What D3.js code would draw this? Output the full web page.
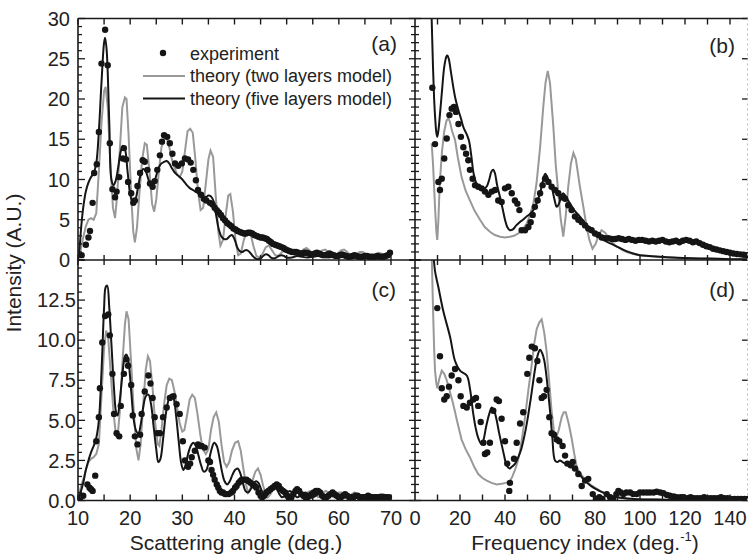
<!DOCTYPE html>
<html>
<head>
<meta charset="utf-8">
<script src="https://cdn.jsdelivr.net/npm/d3@7"></script>
<style>
  body { margin: 0; background: #fff; }
  text { font-family: "Liberation Sans", Arial, sans-serif; fill: #222; }
</style>
</head>
<body>
<svg id="chart" width="748" height="560"></svg>
<script>
// ---- data: [x, intensity] ----
// (a) scattering angle, upper panel
const expA = [[10.7,0.6],[11.5,1.9],[12.0,2.8],[12.3,3.6],[12.8,7.1],[13.1,10.8],[13.6,11.9],[14.0,15.9],[14.5,24.4],[15.2,28.6],[15.7,24.2],[16.1,14.5],[16.6,8.8],[17.1,7.8],[17.4,8.5],[17.9,10.3],[18.6,12.6],[18.8,13.9],[19.2,12.5],[19.6,9.7],[20.2,8.3],[20.6,7.1],[20.9,7.4],[21.4,9.2],[21.9,10.8],[22.4,12.4],[22.8,12.2],[23.3,11.2],[23.8,9.5],[24.3,9.1],[24.7,9.8],[25.2,11.2],[25.7,13.0],[26.1,14.7],[26.5,15.5],[27.1,15.3],[27.6,14.5],[28.1,13.2],[28.6,12.0],[29.2,11.7],[29.9,12.0],[30.5,12.6],[31.1,12.5],[31.6,12.1],[32.1,11.2],[32.6,9.9],[33.0,8.7],[33.6,8.1],[34.1,7.6],[34.6,7.4],[35.3,7.1],[35.8,6.9],[36.2,6.5],[36.6,6.2],[37.0,5.9],[37.4,5.6],[37.8,5.2],[38.2,4.9],[38.6,4.6],[39.0,4.4],[39.4,4.2],[39.8,3.9],[40.2,3.8],[40.6,3.6],[41.0,3.5],[41.4,3.4],[41.8,3.3],[42.2,3.3],[42.6,3.4],[43.0,3.4],[43.4,3.3],[43.8,3.1],[44.2,3.0],[44.6,2.9],[45.0,2.8],[45.4,2.8],[45.8,2.7],[46.2,2.6],[46.6,2.4],[47.0,2.2],[47.4,2.0],[47.8,1.9],[48.2,1.8],[48.6,1.7],[49.0,1.6],[49.4,1.5],[49.8,1.3],[50.2,1.2],[50.6,1.1],[51.0,1.0],[51.4,1.0],[51.8,1.0],[52.2,0.9],[52.6,0.8],[53.0,0.8],[53.4,0.9],[53.8,0.9],[54.2,0.8],[54.6,0.7],[55.0,0.7],[55.4,0.8],[55.8,0.9],[56.2,0.8],[56.6,0.7],[57.0,0.6],[57.4,0.6],[57.8,0.7],[58.2,0.8],[58.6,0.7],[59.0,0.6],[59.4,0.5],[59.8,0.5],[60.2,0.6],[60.6,0.7],[61.0,0.6],[61.4,0.5],[61.8,0.4],[62.2,0.4],[62.6,0.5],[63.0,0.6],[63.4,0.5],[63.8,0.4],[64.2,0.4],[64.6,0.4],[65.0,0.5],[65.4,0.5],[65.8,0.4],[66.2,0.4],[66.6,0.4],[67.0,0.4],[67.4,0.5],[67.8,0.4],[68.2,0.4],[68.6,0.4],[69.0,0.5],[69.4,0.6],[69.8,0.9]]
const twoA = [[10,0],[10.5,1.2],[11,2.8],[11.5,4.2],[12,5.0],[12.5,5.2],[13,5.0],[13.5,5.8],[14,11],[14.5,17],[15,21],[15.3,21.5],[15.7,19],[16.2,12],[16.7,6.5],[17.1,5.2],[17.5,8],[18,13.5],[18.5,19],[19,20.2],[19.3,20],[19.7,15.5],[20.2,8],[20.6,3.5],[20.9,2.2],[21.3,4],[21.8,8.5],[22.3,12.5],[22.8,14.5],[23.2,14.3],[23.7,11],[24.2,7],[24.6,6],[25,7.5],[25.5,11],[26,14],[26.5,15],[27,15.2],[27.5,14],[28,12.5],[28.5,11.5],[29,10.6],[29.5,10.3],[30,11],[30.5,13.5],[31,16],[31.5,16.3],[32,15.8],[32.5,12.5],[33,8.5],[33.5,6.2],[34,6.5],[34.5,9.5],[35,12.5],[35.4,13.6],[35.9,12.8],[36.4,8],[36.9,3.5],[37.3,1.8],[37.8,2.5],[38.3,5.5],[38.8,8],[39.2,8.2],[39.7,6],[40.2,2.5],[40.7,0.6],[41.2,0.8],[41.8,2.5],[42.4,3.6],[43,3.5],[43.6,1.8],[44.2,0.5],[44.8,0.3],[45.4,0.8],[46,1.6],[46.6,1.8],[47.2,1.2],[47.8,0.6],[48.4,0.5],[49,0.9],[49.6,1.4],[50.2,1.5],[50.8,1.2],[51.4,0.7],[52,0.5],[52.6,0.8],[53.2,1.3],[53.8,1.5],[54.4,1.2],[55,0.7],[55.6,0.5],[56.2,0.8],[56.8,1.2],[57.4,1.3],[58,1.0],[58.6,0.6],[59.2,0.5],[59.8,0.8],[60.4,1.2],[61,1.3],[61.6,1.0],[62.2,0.6],[62.8,0.5],[63.4,0.7],[64,1.0],[64.6,1.0],[65.2,0.7],[65.8,0.4],[66.4,0.4],[67,0.7],[67.6,0.9],[68.2,0.8],[68.8,0.5],[69.4,0.4],[70,0.5]]
const fiveA = [[10,0],[10.3,1.5],[10.6,4],[11,6.5],[11.5,8.5],[12,9.6],[12.5,10.3],[13,10.8],[13.5,12],[14,16],[14.5,22],[15,27],[15.2,27.6],[15.5,26],[16,17],[16.4,10],[16.8,9.3],[17.2,9.8],[17.7,11.5],[18.2,13.5],[18.6,14.2],[19,13.8],[19.5,11],[20,8.2],[20.5,7.1],[21,7.5],[21.5,9],[22,10.6],[22.5,11.3],[23,11],[23.5,10],[24,9.3],[24.5,9.5],[25,10.5],[25.5,11.5],[26,12.0],[26.5,12.2],[27,12.3],[27.5,12.0],[28,11.4],[28.5,10.9],[29,10.6],[29.5,10.3],[30,10],[30.5,9.6],[31,9.2],[31.5,8.9],[32,8.7],[32.5,8.5],[33,8.3],[33.5,8.0],[34,7.8],[34.5,7.8],[35,8.0],[35.5,7.9],[36,7.3],[36.5,5.5],[37,3.8],[37.5,2.9],[38,2.6],[38.5,2.6],[39,2.9],[39.5,3.1],[40,2.6],[40.5,1.6],[41,1.1],[41.5,1.0],[42,1.2],[42.5,1.2],[43,0.9],[43.5,0.5],[44,0.2],[44.5,0.1],[45,0.2],[45.5,0.5],[46,0.7],[46.5,0.6],[47,0.3],[47.5,0.2],[48,0.3],[48.5,0.5],[49,0.6],[49.5,0.5],[50,0.3],[51,0.3],[52,0.5],[53,0.4],[54,0.3],[55,0.4],[56,0.5],[57,0.4],[58,0.3],[59,0.4],[60,0.5],[61,0.4],[62,0.3],[63,0.4],[64,0.5],[65,0.4],[66,0.3],[67,0.3],[68,0.4],[69,0.4],[70,0.6]]

// (c) scattering angle, lower panel
const expC = [[10.4,0],[11.0,0.3],[11.8,1.0],[12.2,0.8],[12.5,0.7],[12.8,0.6],[13.3,1.55],[13.5,3.7],[14.0,5.2],[14.2,7.0],[14.65,9.85],[15.2,11.5],[15.8,11.6],[16.1,10.3],[16.6,7.9],[16.9,5.4],[17.4,4.2],[17.9,4.0],[18.2,5.9],[18.8,7.9],[19.3,8.8],[19.6,8.4],[20.2,7.2],[20.5,5.3],[20.9,4.0],[21.4,3.5],[21.9,4.1],[22.2,5.4],[22.8,6.8],[23.5,7.8],[23.9,7.3],[24.3,6.4],[24.7,5.2],[25.2,4.2],[25.7,4.2],[26.3,5.2],[27.0,5.8],[27.6,6.4],[28.3,6.5],[28.9,6.0],[29.5,5.4],[30.1,3.7],[30.5,2.5],[31.1,2.1],[31.5,2.3],[31.8,2.7],[32.4,3.1],[33.0,3.5],[33.4,3.4],[33.7,3.4],[34.3,3.3],[35.0,2.5],[35.3,2.4],[35.6,1.9],[35.9,1.6],[36.2,1.3],[36.6,1.0],[36.9,0.8],[37.2,0.6],[37.5,0.5],[37.8,0.5],[38.2,0.4],[38.5,0.4],[38.9,0.4],[39.4,0.5],[39.7,0.6],[40.1,0.8],[40.4,0.9],[40.8,1.1],[41.1,1.2],[41.4,1.3],[41.8,1.3],[42.3,1.3],[42.7,1.2],[43.1,1.1],[43.5,1.0],[43.9,0.9],[44.2,0.8],[44.6,0.5],[45.0,0.3],[45.3,0.2],[45.7,0.3],[46.1,0.5],[46.5,0.6],[46.9,0.7],[47.3,0.8],[47.7,0.9],[48.1,1.0],[48.5,0.9],[48.9,0.7],[49.3,0.6],[49.7,0.5],[50.1,0.3],[50.5,0.2],[50.9,0.2],[51.3,0.4],[51.7,0.6],[52.0,0.7],[52.4,0.6],[52.8,0.4],[53.2,0.3],[53.6,0.2],[54.0,0.2],[54.4,0.3],[54.8,0.4],[55.2,0.5],[55.6,0.6],[56.0,0.6],[56.4,0.5],[56.8,0.3],[57.2,0.2],[57.6,0.2],[58.0,0.3],[58.4,0.4],[58.8,0.5],[59.2,0.4],[59.6,0.3],[60.0,0.2],[60.4,0.2],[60.8,0.3],[61.2,0.4],[61.6,0.3],[62.0,0.2],[62.4,0.2],[62.8,0.2],[63.2,0.3],[63.6,0.3],[64.0,0.2],[64.4,0.2],[64.8,0.2],[65.2,0.2],[65.6,0.3],[66.0,0.2],[66.4,0.2],[66.8,0.2],[67.2,0.2],[67.6,0.2],[68.0,0.2],[68.4,0.2],[68.8,0.2],[69.2,0.2],[69.6,0.2]]
const twoC = [[10,0],[10.5,0.8],[11,1.3],[11.5,1.9],[12,2.4],[12.5,2.6],[13,2.7],[13.5,2.9],[14,3.5],[14.5,6.5],[15,9.5],[15.4,10.6],[15.8,10.1],[16.3,7.8],[16.8,5.5],[17.3,4.0],[17.6,4.0],[18,5.5],[18.5,8.5],[19,11.0],[19.3,11.8],[19.7,11.3],[20.2,8.5],[20.7,5.5],[21.2,3.2],[21.6,2.5],[22,3.5],[22.5,6],[23,8.2],[23.4,9.0],[23.8,8.7],[24.3,7],[24.8,4.8],[25.3,3.5],[25.6,3.4],[26,4.4],[26.5,6],[27,7.2],[27.5,7.6],[28,7.5],[28.5,6.8],[29,5.8],[29.5,4.8],[30,4.3],[30.4,4.4],[30.9,5.3],[31.4,6.3],[31.9,6.6],[32.4,6.4],[32.9,5.4],[33.4,4.2],[33.9,3.2],[34.5,2.9],[35.0,3.2],[35.5,4.4],[36.0,5.2],[36.5,5.5],[37.0,4.9],[37.5,3.5],[38.0,2.4],[38.5,2.1],[39.0,2.4],[39.5,3.1],[40.1,3.6],[40.7,3.7],[41.2,3.1],[41.7,2.0],[42.2,1.0],[42.6,0.5],[43.0,0.7],[43.5,1.3],[44.0,1.8],[44.5,2.0],[45.0,1.6],[45.5,0.9],[46.0,0.4],[46.4,0.2],[46.9,0.4],[47.4,0.7],[47.9,0.9],[48.5,1.0],[49.0,0.8],[49.5,0.4],[50.0,0.2],[50.5,0.3],[51.0,0.5],[51.5,0.7],[52.0,0.7],[52.5,0.5],[53.0,0.3],[53.5,0.3],[54.0,0.5],[54.5,0.6],[55.0,0.6],[55.5,0.4],[56.0,0.2],[56.5,0.3],[57.0,0.5],[57.5,0.6],[58.0,0.5],[58.5,0.3],[59.0,0.2],[59.5,0.3],[60.0,0.5],[60.5,0.5],[61.0,0.4],[61.5,0.2],[62.0,0.2],[62.5,0.4],[63.0,0.5],[63.5,0.4],[64.0,0.2],[64.5,0.2],[65.0,0.3],[65.5,0.4],[66.0,0.4],[66.5,0.2],[67.0,0.2],[67.5,0.3],[68.0,0.4],[68.5,0.4],[69.0,0.3],[69.5,0.2],[70,0.3]]
const fiveC = [[10,0],[10.5,0.5],[11,1.1],[11.5,1.9],[12,2.5],[12.5,3.0],[13,3.4],[13.5,3.9],[14,5.0],[14.5,8.0],[15,12.0],[15.3,13.3],[15.6,13.4],[16,12],[16.4,9.8],[16.9,7],[17.3,5.5],[17.6,5.3],[18,6.2],[18.5,7.8],[19,9.0],[19.3,9.1],[19.7,8.6],[20.2,6.8],[20.7,5.0],[21.2,4.3],[21.6,4.2],[22,4.7],[22.5,5.8],[23,6.5],[23.5,6.6],[24,6.0],[24.5,4.6],[25,3.2],[25.4,2.4],[25.8,2.6],[26.3,3.8],[26.8,5.3],[27.3,6.2],[27.8,6.6],[28.3,6.4],[28.8,5.3],[29.3,3.7],[29.8,2.3],[30.2,1.9],[30.6,2.2],[31.1,2.9],[31.6,3.4],[32.1,3.6],[32.6,3.4],[33.1,2.8],[33.6,2.2],[34.1,1.8],[34.6,1.9],[35.1,2.5],[35.6,3.2],[36.1,3.6],[36.6,3.4],[37.1,2.7],[37.6,1.8],[38.1,1.2],[38.6,1.0],[39.1,1.2],[39.6,1.6],[40.1,1.9],[40.6,2.0],[41.1,1.7],[41.6,1.1],[42.1,0.6],[42.6,0.5],[43.1,0.7],[43.6,1.0],[44.1,1.2],[44.6,1.1],[45.1,0.7],[45.6,0.4],[46.1,0.3],[46.6,0.5],[47.1,0.7],[47.6,0.8],[48.1,0.7],[48.6,0.4],[49.1,0.2],[49.6,0.3],[50.1,0.5],[50.6,0.6],[51.1,0.5],[51.6,0.3],[52.1,0.2],[52.6,0.3],[53.1,0.4],[53.6,0.5],[54.1,0.4],[54.6,0.2],[55.1,0.2],[55.6,0.3],[56.1,0.4],[56.6,0.4],[57.1,0.3],[57.6,0.2],[58.1,0.2],[58.6,0.3],[59.1,0.4],[59.6,0.3],[60.1,0.2],[61,0.2],[62,0.3],[63,0.2],[64,0.2],[65,0.3],[66,0.2],[67,0.2],[68,0.2],[69,0.2],[70,0.2]]

// (b) frequency index, upper panel
const expB = [[7.7,21.4],[8.9,14.4],[10.4,9.7],[11.1,8.7],[11.9,10.1],[13.0,12.6],[14.1,15.1],[15.3,18.0],[16.3,18.8],[17.3,19.0],[18.2,18.4],[19.3,16.9],[20.4,15.3],[21.5,14.0],[22.7,13.2],[23.7,12.4],[24.4,11.2],[25.6,10.1],[26.7,9.3],[28.1,9.1],[29.6,8.9],[31.1,8.5],[32.6,8.1],[34.1,8.5],[35.6,8.7],[37.0,7.4],[38.5,7.2],[40.0,8.9],[41.5,9.1],[43.0,8.3],[44.4,7.4],[45.5,7.0],[46.4,6.2],[47.4,3.7],[48.9,3.7],[50.4,4.1],[51.4,4.7],[52.3,5.6],[53.3,6.6],[54.5,7.4],[55.6,8.3],[56.7,9.3],[57.8,10.1],[59.3,9.7],[60.7,9.1],[62.2,8.7],[63.7,8.3],[65.2,7.8],[66.7,7.6],[68.1,6.8],[69.6,6.2],[71.1,5.4],[72.6,5.0],[74.1,4.7],[75.6,4.3],[77.0,3.9],[78.5,3.7],[80.0,3.3],[81.5,3.1],[83.0,2.8],[84.4,2.7],[86.0,2.7],[87.5,2.6],[89.0,2.6],[90.5,2.7],[92.0,2.6],[93.5,2.5],[95.0,2.6],[96.5,2.5],[98.0,2.4],[99.5,2.5],[101.0,2.5],[102.5,2.4],[104.0,2.3],[105.5,2.4],[107.0,2.3],[108.5,2.4],[110.0,2.5],[111.5,2.3],[113.0,2.2],[114.5,2.3],[116.0,2.4],[117.5,2.2],[119.0,2.4],[120.5,2.5],[122.0,2.4],[123.5,2.2],[125.0,2.3],[126.5,2.1],[128.0,1.9],[129.5,1.7],[131.0,1.6],[132.5,1.4],[134.0,1.3],[135.5,1.2],[137.0,1.1],[138.5,1.0],[140.0,0.9],[141.5,0.8],[143.0,0.75],[144.5,0.7],[146.0,0.65],[147.5,0.6],[149.0,0.55]]
const twoB = [[7.4,14.5],[8,12],[8.5,9],[9,6],[9.5,3.5],[9.9,2.5],[10.4,5],[11,9.5],[12,13.5],[13,16],[14,17.3],[14.8,17.6],[15.5,17.2],[16.5,16],[17.8,14.9],[19,12.8],[20.7,10.3],[22.5,8.6],[24.4,7.4],[26.5,6.1],[28.9,5.0],[31,4.1],[33.3,3.5],[35.5,3.1],[37.8,2.9],[40,2.8],[42.2,2.9],[44,3.0],[45.9,3.3],[47.8,3.8],[49.6,4.5],[51,5.5],[52.6,7.0],[54,9.5],[55.6,14.0],[57,19],[58,22],[59,23.5],[60,22],[61.5,16.5],[62.5,12],[63.7,8.3],[64.8,5],[65.9,2.9],[67,5.5],[68.1,9.1],[69.3,12],[70.4,13.3],[71.5,12.5],[73.3,9.1],[75,6.3],[76.3,4.1],[77.5,2.5],[78.9,1.4],[80.3,2.0],[81.5,3.0],[82.9,3.7],[84.5,3.4],[86.7,2.5],[89,1.8],[91.1,1.4],[94,1.0],[97,0.75],[100,0.6],[105,0.45],[111.9,0.3],[120,0.2],[130,0.15],[140,0.1],[150,0.1]]
const fiveB = [[7.0,34],[7.5,29],[8.0,24],[8.5,20],[9.0,17.5],[9.5,15.8],[9.9,15.3],[10.5,16.3],[11,17.8],[12,21],[13,24],[14,25.3],[14.4,25.4],[15,25],[16,23.3],[17,21.5],[18,20],[19.3,18.6],[20.5,17.5],[21.5,16.5],[23,15.6],[24,14.8],[25,13],[26,10.8],[27,9.7],[28,9.1],[29,8.9],[30,8.8],[31,8.9],[32,9.2],[33,10],[34,11],[34.8,11.2],[35.5,10.8],[36.5,9.3],[37.8,7.8],[39,6.3],[40,5.0],[41,4.1],[42.2,3.7],[43.5,3.8],[45,4.3],[46.5,4.7],[48,5.0],[49.6,5.4],[51,5.7],[52.6,6.2],[54,7.0],[55,7.8],[56,8.8],[57,10],[57.8,10.7],[58.5,10.5],[59.5,9.8],[60.7,9.1],[62,7.5],[63,6.6],[64,7.0],[65,7.9],[65.9,8.3],[67,7.9],[68.9,7.0],[71,6.1],[73.3,5.4],[75.5,4.6],[77.8,3.9],[80,3.3],[82.2,2.9],[85,2.3],[88,1.9],[91,1.5],[94,1.1],[97,0.8],[100,0.6],[104,0.5],[108.9,0.4],[115,0.3],[120,0.25],[126.7,0.2],[135,0.15],[142,0.1],[150,0.1]]

// (d) frequency index, lower panel
const expD = [[9.9,12.0],[11.1,9.0],[11.9,7.0],[13.0,6.3],[14.1,6.5],[15.1,7.1],[16.3,7.8],[17.8,8.2],[19.3,7.5],[20.3,6.5],[21.5,5.9],[23.0,5.8],[24.4,6.1],[25.9,6.3],[27.1,6.4],[28.1,5.9],[29.2,4.9],[30.4,3.6],[31.1,2.9],[32.1,3.0],[33.3,3.6],[34.8,5.6],[36.3,6.3],[37.3,6.2],[38.5,5.1],[40.0,3.7],[41.0,2.3],[42.2,1.1],[41.9,0.6],[44.0,2.6],[45.2,3.6],[46.7,4.8],[48.1,5.5],[49.9,7.9],[50.8,8.9],[51.9,9.6],[53.3,9.5],[54.4,8.7],[55.3,7.5],[56.3,6.4],[57.3,6.5],[58.5,6.9],[59.7,5.2],[60.7,4.2],[61.8,4.1],[63.0,3.8],[64.1,3.7],[65.6,3.4],[66.7,2.8],[67.7,2.3],[69.2,2.2],[70.1,2.4],[71.1,2.0],[72.6,1.65],[74.1,0.9],[75.6,1.24],[77.0,1.35],[79.0,0.4],[80.4,0.1],[81.9,0.2],[83.3,0.1],[85.2,0.4],[86.7,0.2],[88.1,0.1],[89.5,0.4],[90.4,0.6],[91.5,0.5],[92.6,0.4],[94.0,0.5],[95.6,0.5],[97.0,0.4],[98.5,0.4],[100.0,0.5],[101.5,0.5],[103.0,0.5],[104.4,0.5],[106.0,0.5],[107.4,0.55],[109.0,0.5],[110.4,0.45],[112.0,0.35],[113.3,0.3],[115.0,0.25],[116.3,0.2],[118.0,0.2],[119.3,0.2],[121.0,0.15],[122.5,0.2],[124.0,0.15],[125.5,0.15],[127.0,0.15],[128.5,0.2],[130.0,0.15],[131.5,0.15],[133.0,0.15],[134.5,0.15],[136.0,0.2],[137.5,0.15],[139.0,0.15],[140.5,0.1],[142.0,0.1],[143.5,0.1],[145.0,0.1],[146.5,0.1],[148.0,0.1]]
const twoD = [[7.4,15.5],[8,12],[8.5,9.5],[8.9,8.1],[9.4,7.4],[9.9,7.0],[10.8,7.6],[11.9,8.1],[13,7.9],[14.1,7.5],[15.5,6.8],[17,6.0],[18.8,4.9],[20.7,3.8],[22.5,3.2],[24.4,2.7],[26.3,2.1],[28.1,1.65],[30,1.4],[31.9,1.24],[34,1.1],[36.3,1.0],[38.5,1.05],[40.4,1.1],[42.2,1.2],[43.3,1.5],[44.4,1.9],[45.6,2.4],[46.7,3.1],[47.8,4.1],[48.9,5.2],[50.4,6.9],[51.9,8.5],[53,9.8],[54.1,10.7],[55.2,11.1],[56.3,11.3],[57.4,10.5],[58.5,9.3],[59.6,7.5],[60.7,5.6],[61.7,4.4],[62.7,3.9],[63.9,4.4],[65.2,5.2],[66.1,5.5],[67,5.5],[68.3,4.8],[69.6,3.9],[70.8,2.9],[71.9,2.1],[73.3,1.7],[74.8,1.45],[77.8,1.0],[80,0.8],[82.2,0.6],[86,0.35],[89.6,0.2],[95,0.1],[110,0.05],[150,0.02]]
const fiveD = [[7.3,17],[8,15.8],[8.9,14.3],[10.4,13.3],[12.6,11.8],[15.6,10.2],[17.8,8.7],[20,8.1],[23,7.8],[24.4,7.0],[25.9,5.4],[27,4.5],[28.1,3.9],[29.6,3.5],[30.5,3.8],[31.6,4.6],[33,5.4],[34.1,5.8],[35.2,5.6],[36.3,5.0],[37.4,4.2],[38.5,3.5],[39.6,2.8],[40.7,2.2],[42,2.0],[43,2.1],[44.5,2.3],[45.9,2.7],[47,3.1],[48.1,3.7],[49.3,4.5],[50.4,5.4],[51.5,6.4],[52.6,7.5],[53.7,8.5],[54.6,9.1],[55.6,9.4],[56.5,9.2],[57.5,8.7],[58.7,7.4],[60,5.6],[61,4.0],[62.2,2.5],[63.3,2.4],[64.4,2.5],[65.5,2.4],[66.7,2.3],[68.9,2.3],[70.5,2.1],[71.9,1.9],[73.3,1.6],[74.8,1.35],[77,1.05],[79.3,0.8],[82,0.6],[85.2,0.4],[90,0.2],[97,0.1],[110,0.05],[150,0.02]]

// tick values
const angleTicks = [10, 20, 30, 40, 50, 60, 70]
const freqTicks = [0, 20, 40, 60, 80, 100, 120, 140]
const topYTicks = [0, 5, 10, 15, 20, 25, 30]
const botYTicks = [0, 2.5, 5, 7.5, 10, 12.5]

const legendLabels = ['experiment', 'theory (two layers model)', 'theory (five layers model)']

// ---- layout ----
const svg = d3.select('#chart')
const L = 78, M = 415, R = 748, T = 18.5, MID = 260, B = 500.5

const xAngle = d3.scaleLinear().domain([10, 70]).range([L, 391])
const xFreq = d3.scaleLinear().domain([0, 140]).range([M, 730])
const yTop = d3.scaleLinear().domain([0, 30]).range([MID, T])
const yBot = d3.scaleLinear().domain([0, 15]).range([B, MID])

const gray = '#999', dark = '#151515'

const panels = [
  { id: 'a', x: xAngle, y: yTop, exp: expA, two: twoA, five: fiveA, x0: L, x1: M, y0: T, y1: MID, lx: 397, ly: 51 },
  { id: 'b', x: xFreq, y: yTop, exp: expB, two: twoB, five: fiveB, x0: M, x1: R, y0: T, y1: MID, lx: 735, ly: 53 },
  { id: 'c', x: xAngle, y: yBot, exp: expC, two: twoC, five: fiveC, x0: L, x1: M, y0: MID, y1: B, lx: 396, ly: 297 },
  { id: 'd', x: xFreq, y: yBot, exp: expD, two: twoD, five: fiveD, x0: M, x1: R, y0: MID, y1: B, lx: 735, ly: 297 }
]

const defs = svg.append('defs')

panels.forEach(function (p) {
  defs.append('clipPath').attr('id', 'clip-' + p.id)
    .append('rect').attr('x', p.x0).attr('y', p.y0)
    .attr('width', p.x1 - p.x0).attr('height', p.y1 - p.y0)

  const g = svg.append('g').attr('clip-path', 'url(#clip-' + p.id + ')')
  const line = d3.line().x(function (d) { return p.x(d[0]) }).y(function (d) { return p.y(d[1]) })
  const smooth = d3.line().curve(d3.curveCatmullRom).x(function (d) { return p.x(d[0]) }).y(function (d) { return p.y(d[1]) })

  g.append('path').datum(p.two).attr('d', line)
    .attr('fill', 'none').attr('stroke', gray).attr('stroke-width', 2)
  g.append('path').datum(p.five).attr('d', smooth)
    .attr('fill', 'none').attr('stroke', dark).attr('stroke-width', 2)
  g.selectAll('circle').data(p.exp).join('circle')
    .attr('cx', function (d) { return p.x(d[0]) })
    .attr('cy', function (d) { return p.y(d[1]) })
    .attr('r', 3.2).attr('fill', dark)

  svg.append('text').attr('x', p.lx).attr('y', p.ly)
    .attr('text-anchor', 'end').style('font-size', '21px').text('(' + p.id + ')')
})

// ---- frame ----
const frame = svg.append('g').attr('stroke', '#1a1a1a').attr('stroke-width', 1.6)
function seg (x1, y1, x2, y2, sw) {
  frame.append('line').attr('x1', x1).attr('y1', y1).attr('x2', x2).attr('y2', y2)
    .attr('stroke-width', sw || null)
}
seg(L, T, R, T)
seg(L, MID, R, MID)
seg(L, B, R, B)
seg(L, T, L, B)
seg(M, T, M, B)
svg.append('line').attr('x1', R - 0.5).attr('x2', R - 0.5).attr('y1', T).attr('y2', B)
  .attr('stroke', '#bbb').attr('stroke-width', 1).attr('stroke-dasharray', '2,3')

// x ticks: top inward, middle crossing, bottom inward
d3.range(10, 71, 5).forEach(function (v) {
  const x = xAngle(v)
  seg(x, T, x, T + 6, 1.4)
  seg(x, MID - 5, x, MID + 5, 1.4)
  seg(x, B - 6, x, B, 1.4)
})
d3.range(10, 141, 10).forEach(function (v) {
  const x = xFreq(v)
  seg(x, T, x, T + 6, 1.4)
  seg(x, MID - 5, x, MID + 5, 1.4)
  seg(x, B - 6, x, B, 1.4)
})

// y ticks: left inward, middle crossing, right inward
function yTicks (y, minorStep, majorStep, top) {
  d3.range(0, top + 0.001, minorStep).forEach(function (v) {
    const major = Math.abs(v / majorStep - Math.round(v / majorStep)) < 1e-6
    const yy = y(v)
    seg(L, yy, L + (major ? 7 : 4), yy, 1.3)
    seg(M - (major ? 6 : 4), yy, M + (major ? 6 : 4), yy, 1.3)
    if (major) seg(R - 6, yy, R, yy, 1.3)
  })
}
yTicks(yTop, 1, 5, 30)
yTicks(yBot, 0.5, 2.5, 15)

// ---- tick labels ----
const lab = svg.append('g').style('font-size', '20px')
topYTicks.forEach(function (v) {
  lab.append('text').attr('x', 70).attr('y', yTop(v)).attr('dy', '0.36em')
    .attr('text-anchor', 'end').text(v)
})
botYTicks.forEach(function (v) {
  lab.append('text').attr('x', 76).attr('y', yBot(v)).attr('dy', '0.36em')
    .attr('text-anchor', 'end').text(d3.format('.1f')(v))
})
angleTicks.forEach(function (v) {
  lab.append('text').attr('x', xAngle(v)).attr('y', 525)
    .attr('text-anchor', 'middle').text(v)
})
freqTicks.forEach(function (v) {
  lab.append('text').attr('x', xFreq(v)).attr('y', 525)
    .attr('text-anchor', 'middle').text(v)
})

// ---- axis titles ----
svg.append('text').attr('transform', 'translate(21,263) rotate(-90)')
  .attr('text-anchor', 'middle').style('font-size', '21px').text('Intensity (A.U.)')
svg.append('text').attr('x', 236).attr('y', 550)
  .attr('text-anchor', 'middle').style('font-size', '21px').text('Scattering angle (deg.)')
const ft = svg.append('text').attr('x', 585).attr('y', 550)
  .attr('text-anchor', 'middle').style('font-size', '21px')
ft.append('tspan').text('Frequency index (deg.')
ft.append('tspan').attr('dy', -9).style('font-size', '13px').text('-1')
ft.append('tspan').attr('dy', 9).text(')')

// ---- legend ----
const leg = svg.append('g').style('font-size', '18px')
leg.append('circle').attr('cx', 163).attr('cy', 53).attr('r', 3.2).attr('fill', dark)
leg.append('line').attr('x1', 143).attr('x2', 185).attr('y1', 76).attr('y2', 76)
  .attr('stroke', gray).attr('stroke-width', 2)
leg.append('line').attr('x1', 143).attr('x2', 185).attr('y1', 98.5).attr('y2', 98.5)
  .attr('stroke', dark).attr('stroke-width', 2)
legendLabels.forEach(function (t, i) {
  leg.append('text').attr('x', 190).attr('y', 59.5 + i * 22.7).text(t)
})
</script>
</body>
</html>
